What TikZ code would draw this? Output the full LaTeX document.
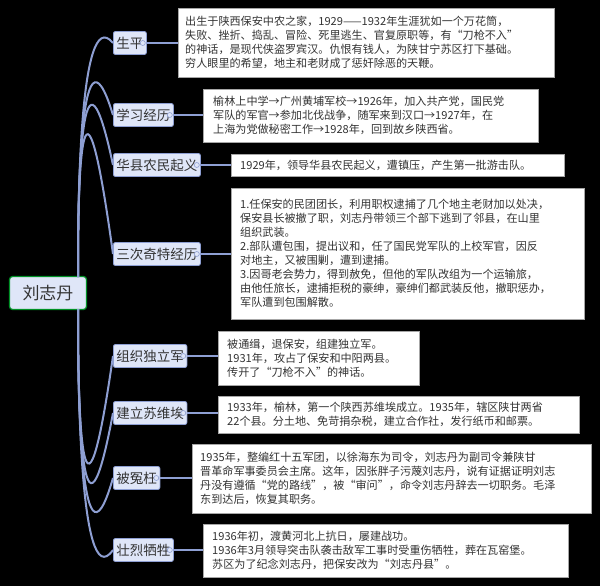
\documentclass[tikz,border=0pt]{standalone}
\usepackage{fontspec}
\setmainfont{Noto Sans CJK SC}
\begin{document}
\begin{tikzpicture}[x=1pt,y=-1pt,
  conn/.style={draw=linec,line width=2pt},
  br/.style={draw=brd,fill=brf,rounded corners=2pt,line width=0.8pt,inner xsep=3pt,inner ysep=2pt,font=\fontsize{13.5}{16}\selectfont,text=txt,minimum height=23pt,anchor=west},
  tb/.style={draw=gray!70,fill=white,line width=0.8pt,inner sep=0pt,anchor=north west},
  tx/.style={inner sep=0pt,font=\fontsize{11.1}{14}\selectfont,text=txt,align=left,anchor=west},
  knob/.style={circle,draw=brd,fill=brf,inner sep=0pt,minimum size=5pt,line width=0.6pt}]
\definecolor{linec}{HTML}{8E9FD3}
\definecolor{brd}{HTML}{8E9FD3}
\definecolor{brf}{HTML}{DFE6F8}
\definecolor{txt}{HTML}{333333}
\fill[black] (0,0) rectangle (600,586);
\useasboundingbox (0,0) rectangle (600,586);
% root
\node[draw=green!60!black!70!teal,fill=brf,rounded corners=3pt,line width=1.2pt,minimum width=77pt,minimum height=33pt,font=\fontsize{17}{20}\selectfont,text=txt] (root) at (48,293) {刘志丹};
\coordinate (rt) at (78,277);
\coordinate (rb) at (78,309);
% branches
\node[br] (b1) at (113,43) {生平\hspace{6pt}};
\node[br] (b2) at (113,115) {学习经历\hspace{6pt}};
\node[br] (b3) at (113,165) {华县农民起义\hspace{6pt}};
\node[br] (b4) at (113,254) {三次奇特经历\hspace{6pt}};
\node[br] (b5) at (113,356) {组织独立军\hspace{6pt}};
\node[br] (b6) at (113,413) {建立苏维埃\hspace{6pt}};
\node[br] (b7) at (113,478) {被冤枉\hspace{6pt}};
\node[br] (b8) at (113,550) {壮烈牺牲\hspace{6pt}};
\foreach \b in {b1,b2,b3,b4}{
  \draw[conn] (rt) .. controls (78,220) and (78,0) .. (\b.west);}
\foreach \b in {b5,b6,b7,b8}{
  \draw[conn] (rb) .. controls (78,360) and (78,600) .. (\b.west);}
% boxes
\node[tb,minimum width=376pt,minimum height=69pt] (t1) at (178,8) {};
\node[tx] at (185,42.5) {出生于陕西保安中农之家，1929——1932年生涯犹如一个万花筒，\\失败、挫折、捣乱、冒险、死里逃生、官复原职等，有“刀枪不入”\\的神话，是现代侠盗罗宾汉。仇恨有钱人，为陕甘宁苏区打下基础。\\穷人眼里的希望，地主和老财成了惩奸除恶的天鞭。};
\node[tb,minimum width=335pt,minimum height=53pt] (t2) at (203,89) {};
\node[tx] at (213,115.5) {榆林上中学→广州黄埔军校→1926年，加入共产党，国民党\\军队的军官→参加北伐战争，随军来到汉口→1927年，在\\上海为党做秘密工作→1928年，回到故乡陕西省。};
\node[tb,minimum width=333pt,minimum height=22pt] (t3) at (231,154) {};
\node[tx] at (240,165) {1929年，领导华县农民起义，遭镇压，产生第一批游击队。};
\node[tb,minimum width=353pt,minimum height=131pt] (t4) at (231,188) {};
\node[tx] at (240,253.5) {1.任保安的民团团长，利用职权逮捕了几个地主老财加以处决，\\保安县长被撤了职，刘志丹带领三个部下逃到了邻县，在山里\\组织武装。\\2.部队遭包围，提出议和，任了国民党军队的上校军官，因反\\对地主，又被围剿，遭到逮捕。\\3.因哥老会势力，得到赦免，但他的军队改组为一个运输旅，\\由他任旅长，逮捕拒税的豪绅，豪绅们都武装反他，撤职惩办，\\军队遭到包围解散。};
\node[tb,minimum width=201pt,minimum height=54pt] (t5) at (218,331) {};
\node[tx] at (227,358) {被通缉，退保安，组建独立军。\\1931年，攻占了保安和中阳两县。\\传开了“刀枪不入”的神话。};
\node[tb,minimum width=361pt,minimum height=37pt] (t6) at (218,396) {};
\node[tx] at (227,414.5) {1933年，榆林，第一个陕西苏维埃成立。1935年，辖区陕甘两省\\22个县。分土地、免苛捐杂税，建立合作社，发行纸币和邮票。};
\node[tb,minimum width=399pt,minimum height=69pt] (t7) at (192,444) {};
\node[tx] at (200,478.5) {1935年，整编红十五军团，以徐海东为司令，刘志丹为副司令兼陕甘\\晋革命军事委员会主席。这年，因张胖子污蔑刘志丹，说有证据证明刘志\\丹没有遵循“党的路线”，被“审问”，命令刘志丹辞去一切职务。毛泽\\东到达后，恢复其职务。};
\node[tb,minimum width=365pt,minimum height=53pt] (t8) at (203,524) {};
\node[tx] at (212,550.5) {1936年初，渡黄河北上抗日，屡建战功。\\1936年3月领导突击队袭击敌军工事时受重伤牺牲，葬在瓦窑堡。\\苏区为了纪念刘志丹，把保安改为“刘志丹县”。};
% connectors branch -> box
\foreach \i in {1,...,8}{
  \draw[conn] (b\i.east) -- (b\i.east -| t\i.west);
  \node[knob] at ([xshift=-4pt]b\i.east) {};}
\end{tikzpicture}
\end{document}
